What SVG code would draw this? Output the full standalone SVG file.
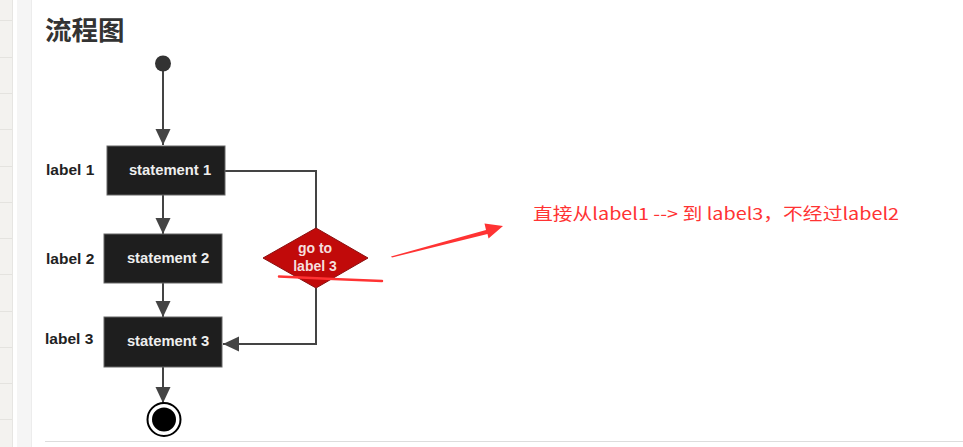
<svg xmlns="http://www.w3.org/2000/svg" width="963" height="447" viewBox="0 0 963 447">
<style>
.lbl{font-family:"Liberation Sans",Arial,sans-serif;font-weight:bold;font-size:15.5px;fill:#222}
.stm{font-family:"Liberation Sans",Arial,sans-serif;font-weight:bold;font-size:14.8px;fill:#eee;text-anchor:middle}
.box{fill:#1e1e1e;stroke:#666;stroke-width:1}
.con{fill:none;stroke:#444;stroke-width:2}
.red{fill:#f33}
</style>
<defs>
<marker id="ah" markerWidth="16" markerHeight="17" refX="17" refY="8" orient="auto" markerUnits="userSpaceOnUse" viewBox="0 0 17 16">
<path d="M0,0 L17,8 L0,16 Z" fill="#444"/>
</marker>
</defs>
<rect x="0" y="0" width="963" height="447" fill="#fff"/>
<g id="page-side">
<rect x="0" y="0" width="12" height="447" fill="#f3f2ef"/>
<rect x="12" y="0" width="1" height="447" fill="#e6e5e2"/>
<rect x="17" y="0" width="15" height="447" fill="#f5f5f5"/>
<rect x="31" y="0" width="1" height="447" fill="#ececec"/>
<g stroke="#e4e3df" stroke-width="1">
<line x1="0" y1="20.5" x2="12" y2="20.5"/><line x1="0" y1="57.5" x2="12" y2="57.5"/><line x1="0" y1="93.5" x2="12" y2="93.5"/><line x1="0" y1="129.5" x2="12" y2="129.5"/><line x1="0" y1="166.5" x2="12" y2="166.5"/><line x1="0" y1="202.5" x2="12" y2="202.5"/><line x1="0" y1="238.5" x2="12" y2="238.5"/><line x1="0" y1="274.5" x2="12" y2="274.5"/><line x1="0" y1="311.5" x2="12" y2="311.5"/><line x1="0" y1="347.5" x2="12" y2="347.5"/><line x1="0" y1="383.5" x2="12" y2="383.5"/><line x1="0" y1="419.5" x2="12" y2="419.5"/>
</g>
<line x1="45" y1="441.5" x2="963" y2="441.5" stroke="#ddd" stroke-width="1"/>
</g>
<text x="45" y="40" font-family="'Noto Sans CJK SC',sans-serif" font-weight="bold" font-size="26.5" fill="#333">流程图</text>
<g id="connectors">
<line class="con" x1="163" y1="70" x2="163" y2="145" marker-end="url(#ah)"/>
<line class="con" x1="163" y1="195" x2="163" y2="234" marker-end="url(#ah)"/>
<line class="con" x1="163" y1="283" x2="163" y2="317" marker-end="url(#ah)"/>
<line class="con" x1="163" y1="367" x2="163" y2="403" marker-end="url(#ah)"/>
<polyline class="con" points="225,171 316,171 316,229"/>
<polyline class="con" points="316,288 316,344 223,344" marker-end="url(#ah)"/>
</g>
<g id="start"><circle cx="163" cy="63.5" r="8" fill="#333"/></g>
<g id="s1">
<rect class="box" x="107" y="146" width="118" height="49"/>
<text class="stm" x="170" y="175">statement 1</text>
<text class="lbl" x="46" y="175">label 1</text>
</g>
<g id="s2">
<rect class="box" x="104" y="234" width="118" height="49"/>
<text class="stm" x="168" y="263">statement 2</text>
<text class="lbl" x="46" y="264">label 2</text>
</g>
<g id="s3">
<rect class="box" x="104" y="317" width="118" height="50"/>
<text class="stm" x="168" y="346">statement 3</text>
<text class="lbl" x="45" y="344">label 3</text>
</g>
<g id="goto">
<polygon points="316,228 368,258 316,288 263,258" fill="#c10a0a" stroke="#8a1010" stroke-width="1"/>
<text class="stm" x="315" y="253" style="fill:#f5dede;font-size:14px">go to</text>
<text class="stm" x="315" y="271" style="fill:#f5dede;font-size:14px">label 3</text>
</g>
<g id="end">
<circle cx="164" cy="419.5" r="16.5" fill="#fff" stroke="#000" stroke-width="2"/>
<circle cx="164" cy="419.5" r="12" fill="#000"/>
</g>
<g id="annotation">
<path d="M279,276.5 Q330,279 382,281" fill="none" stroke="#f33" stroke-width="2.5" stroke-linecap="round"/>
<polygon class="red" points="391,256.5 486,230 484.5,223.5 503,226 488.5,238.5 487.5,234 392,257.5"/>
<text x="533" y="220" font-family="'Noto Sans CJK SC',sans-serif" font-size="17" fill="#f33" textLength="366" lengthAdjust="spacingAndGlyphs">直接从label1 --&gt; 到 label3，不经过label2</text>
</g>
</svg>
